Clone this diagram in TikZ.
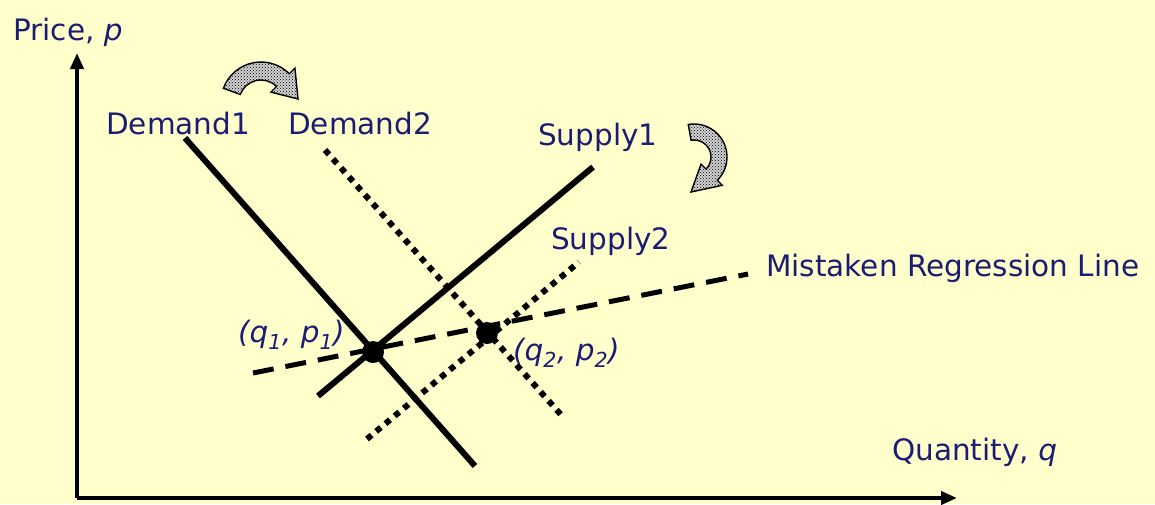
\documentclass[tikz,border=0pt]{standalone}
\usepackage{fontspec}
\setmainfont{DejaVu Sans}
\usetikzlibrary{arrows.meta,patterns}
\definecolor{bg}{RGB}{255,255,204}
\definecolor{navy}{RGB}{28,28,115}
\begin{document}
\begin{tikzpicture}[x=1pt,y=-1pt,
  lbl/.style={text=navy,font=\fontsize{29.5}{34}\selectfont,inner sep=0pt,anchor=west},
  axis/.style={line width=4pt,-{Triangle[length=16pt,width=13pt]}},
  solidline/.style={line width=6pt},
  dotline/.style={line width=6pt,dash pattern=on 6pt off 6pt},
  dashline/.style={line width=5pt,dash pattern=on 21pt off 12pt},
  eqpt/.style={circle,fill=black,inner sep=0pt,minimum size=22pt},
  shiftarrow/.style={draw=black,line width=1.4pt,fill=white!82!black,postaction={pattern=crosshatch dots}}]
\fill[bg] (0,0) rectangle (1155,504);
\useasboundingbox (0,0) rectangle (1155,504);
% coordinates
\coordinate (o) at (77,498);
\coordinate (ytip) at (77,53);
\coordinate (xtip) at (957,498);
\coordinate (d1a) at (185,138);
\coordinate (d1b) at (475,466);
\coordinate (d2a) at (325,150);
\coordinate (d2b) at (563,417);
\coordinate (s1a) at (318,396);
\coordinate (s1b) at (593,167);
\coordinate (s2a) at (367,439);
\coordinate (s2b) at (579,262);
\coordinate (rga) at (253,373);
\coordinate (rgb) at (748,274);
% axes
\draw[axis] (o) -- (ytip);
\draw[axis] (o) -- (xtip);
% curves
\draw[solidline] (d1a) -- (d1b);
\draw[dotline] (d2a) -- (d2b);
\draw[solidline] (s1b) -- (s1a);
\draw[dotline] (s2a) -- (s2b);
\draw[dashline] (rga) -- (rgb);
% equilibrium points
\node[eqpt] (e1) at (373,352) {};
\node[eqpt] (e2) at (487,333) {};
% shift arrows
\begin{scope}[shift={(261,102)},yscale=-1]
\draw[shiftarrow] (160:40) arc[start angle=160,end angle=45,radius=40] -- (45:48) -- (37,3) -- (45:14) -- (45:22) arc[start angle=45,end angle=160,radius=22] -- cycle;
\end{scope}
\begin{scope}[shift={(694,157)},yscale=-1]
\draw[shiftarrow] (100:33) arc[start angle=100,end angle=-45,radius=33] -- (-45:40) -- (-3,-35) -- (-45:10) -- (-45:17) arc[start angle=-45,end angle=100,radius=17] -- cycle;
\end{scope}
% labels
\node[lbl] (price) at (13,32) {Price, \textit{p}};
\node[lbl] (dem1) at (106,123) {Demand1};
\node[lbl] (dem2) at (288,123) {Demand2};
\node[lbl] (sup1) at (538,137) {Supply1};
\node[lbl] (sup2) at (551,241) {Supply2};
\node[lbl] (mrl) at (766,268) {Mistaken Regression Line};
\node[lbl] (qty) at (892,452) {Quantity, \textit{q}};
\node[lbl] (qp1) at (238,335) {\textit{(q\textsubscript{1}, p\textsubscript{1})}};
\node[lbl] (qp2) at (513,353) {\textit{(q\textsubscript{2}, p\textsubscript{2})}};
\end{tikzpicture}
\end{document}
